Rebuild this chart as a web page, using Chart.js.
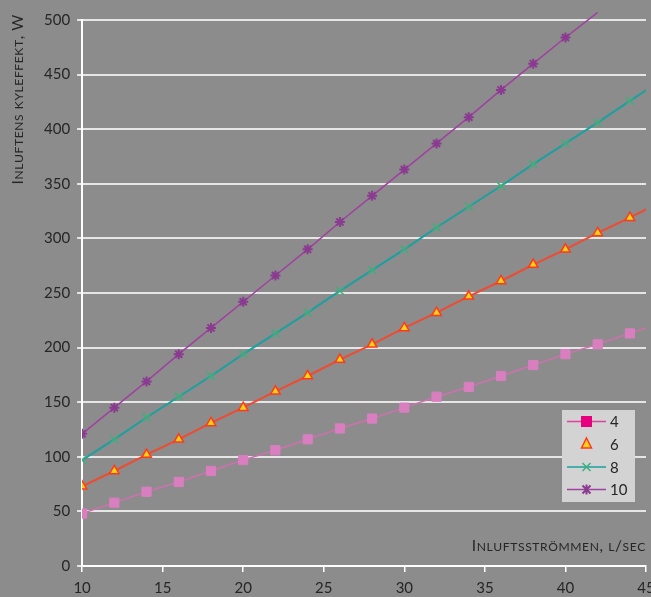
<!DOCTYPE html>
<html>
<head>
<meta charset="utf-8">
<script src="https://cdn.jsdelivr.net/npm/chart.js@4/dist/chart.umd.min.js"></script>
<style>
    html, body { margin: 0; padding: 0; background: #8c8c8c; overflow: hidden; }
    #wrap { width: 680px; height: 597px; }
</style>
</head>
<body>
<div id="wrap"><canvas id="chart"></canvas></div>
<script>
// Air flow, l/sec (last point lies past the axis end and gets clipped)
const flow = [10, 12, 14, 16, 18, 20, 22, 24, 26, 28, 30, 32, 34, 36, 38, 40, 42, 44, 46];

// Cooling power, W, per temperature difference
const series4 = [48, 58, 68, 77, 87, 97, 106, 116, 126, 135, 145, 155, 164, 174, 184, 194, 203, 213, 223];
const series6 = [73, 87, 102, 116, 131, 145, 160, 174, 189, 203, 218, 232, 247, 261, 276, 290, 305, 319, 334];
const series8 = [97, 116, 136, 155, 174, 194, 213, 232, 252, 271, 290, 310, 329, 348, 368, 387, 406, 426, 445];
const series10 = [121, 145, 169, 194, 218, 242, 266, 290, 315, 339, 363, 387, 411, 436, 460, 484, 507];

const seriesNames = ['4', '6', '8', '10'];
const yTitle = 'Inluftens kyleffekt, W';
const xTitle = 'Inluftsströmmen, l/sec';

const fontFamily = 'Lato, "Open Sans", sans-serif';
const textColor = '#262626';

function toPoints(values) {
    return values.map((v, i) => ({ x: flow[i], y: v }));
}

// Draw text in small caps: lowercase letters become smaller capitals
function drawSmallCaps(ctx, text, x, y, size, align) {
    const small = size * 0.78;
    const parts = [];
    let total = 0;
    for (const ch of text) {
        const isLower = ch !== ch.toUpperCase();
        const s = isLower ? small : size;
        ctx.font = s + 'px ' + fontFamily;
        const c = ch.toUpperCase();
        const w = ctx.measureText(c).width + 0.6;
        parts.push({ c, s, w });
        total += w;
    }
    let cx = align === 'right' ? x - total : x;
    ctx.textBaseline = 'alphabetic';
    ctx.textAlign = 'left';
    for (const p of parts) {
        ctx.font = p.s + 'px ' + fontFamily;
        ctx.fillText(p.c, cx, y);
        cx += p.w;
    }
}

const titlePlugin = {
    id: 'axisTitles',
    afterDraw(chart) {
        const ctx = chart.ctx;
        const area = chart.chartArea;
        ctx.save();
        ctx.fillStyle = textColor;
        // x title sits inside the plot, right aligned
        drawSmallCaps(ctx, xTitle, area.right, area.bottom - 15, 15.5, 'right');
        // y title rotated, starting near the top
        ctx.translate(23, 14);
        ctx.rotate(-Math.PI / 2);
        drawSmallCaps(ctx, yTitle, 0, 0, 15.5, 'right');
        ctx.restore();
    }
};

const legendPlugin = {
    id: 'boxLegend',
    afterDraw(chart) {
        const ctx = chart.ctx;
        const box = { x: 562, y: 410, w: 73, h: 92 };
        ctx.save();
        ctx.fillStyle = '#d3d3d3';
        ctx.fillRect(box.x, box.y, box.w, box.h);
        const rows = [421.5, 444, 467, 489.5];
        const styles = [
            { line: '#e0409a', draw: (x, y) => { ctx.fillStyle = '#e6007e'; ctx.fillRect(x - 5.5, y - 5.5, 11, 11); } },
            { line: null, draw: (x, y) => {
                ctx.beginPath();
                ctx.moveTo(x, y - 6); ctx.lineTo(x + 5, y + 4); ctx.lineTo(x - 5, y + 4); ctx.closePath();
                ctx.fillStyle = '#ffd21a'; ctx.fill();
                ctx.strokeStyle = '#ff3a1a'; ctx.lineWidth = 1.5; ctx.stroke();
            } },
            { line: '#1aa0a0', draw: (x, y) => {
                ctx.strokeStyle = '#3cb07c'; ctx.lineWidth = 1.5;
                ctx.beginPath();
                ctx.moveTo(x - 4, y - 4); ctx.lineTo(x + 4, y + 4);
                ctx.moveTo(x + 4, y - 4); ctx.lineTo(x - 4, y + 4);
                ctx.stroke();
            } },
            { line: '#a040a0', draw: (x, y) => {
                ctx.strokeStyle = '#8a3a90'; ctx.lineWidth = 2;
                ctx.beginPath();
                ctx.moveTo(x - 4, y - 4); ctx.lineTo(x + 4, y + 4);
                ctx.moveTo(x + 4, y - 4); ctx.lineTo(x - 4, y + 4);
                ctx.moveTo(x, y - 5); ctx.lineTo(x, y + 5);
                ctx.stroke();
            } }
        ];
        rows.forEach((y, i) => {
            const st = styles[i];
            if (st.line) {
                ctx.strokeStyle = st.line;
                ctx.lineWidth = 1.5;
                ctx.beginPath();
                ctx.moveTo(567, y);
                ctx.lineTo(606, y);
                ctx.stroke();
            }
            st.draw(586.5, y);
            ctx.fillStyle = textColor;
            ctx.font = '15px ' + fontFamily;
            ctx.textAlign = 'left';
            ctx.textBaseline = 'middle';
            ctx.fillText(seriesNames[i], 610, y + 1);
        });
        ctx.restore();
    }
};

new Chart(document.getElementById('chart'), {
    type: 'line',
    data: {
        datasets: [
            {
                label: seriesNames[0],
                data: toPoints(series4),
                borderColor: '#d070b0',
                borderWidth: 1.5,
                pointStyle: 'rect',
                pointRadius: 6.5,
                pointBackgroundColor: '#d97fc0',
                pointBorderColor: '#d97fc0',
                pointBorderWidth: 1
            },
            {
                label: seriesNames[1],
                data: toPoints(series6),
                borderColor: '#f04a30',
                borderWidth: 2,
                pointStyle: 'triangle',
                pointRadius: 5.5,
                pointBackgroundColor: '#ffd21a',
                pointBorderColor: '#ff3a1a',
                pointBorderWidth: 1.5
            },
            {
                label: seriesNames[2],
                data: toPoints(series8),
                borderColor: '#1aa0a0',
                borderWidth: 2,
                pointStyle: 'crossRot',
                pointRadius: 5.5,
                pointBorderColor: '#3cb07c',
                pointBorderWidth: 1.5
            },
            {
                label: seriesNames[3],
                data: toPoints(series10),
                borderColor: '#a040a0',
                borderWidth: 1.5,
                pointStyle: 'star',
                pointRadius: series10.map((v, i) => i === series10.length - 1 ? 0 : 5),
                pointBorderColor: '#8a3a90',
                pointBorderWidth: 2,
                clip: { left: 0, top: 10, right: 0, bottom: 0 }
            }
        ]
    },
    options: {
        responsive: true,
        maintainAspectRatio: false,
        animation: false,
        layout: { padding: { left: 37, top: 20, right: 34, bottom: -7 } },
        plugins: {
            legend: { display: false },
            tooltip: { enabled: false }
        },
        elements: { line: { tension: 0 } },
        scales: {
            x: {
                type: 'linear',
                min: 10,
                max: 45,
                ticks: { stepSize: 5, color: textColor, padding: 7, font: { family: fontFamily, size: 15 } },
                grid: { drawOnChartArea: false, drawTicks: true, tickLength: 6, color: '#ffffff', lineWidth: 1.5 },
                border: { color: '#ffffff', width: 2 }
            },
            y: {
                min: 0,
                max: 500,
                ticks: { stepSize: 50, color: textColor, padding: 7, font: { family: fontFamily, size: 15 } },
                grid: { color: '#e6e6e6', lineWidth: 2, tickLength: 5 },
                border: { color: '#ffffff', width: 2 }
            }
        }
    },
    plugins: [titlePlugin, legendPlugin]
});
</script>
</body>
</html>
